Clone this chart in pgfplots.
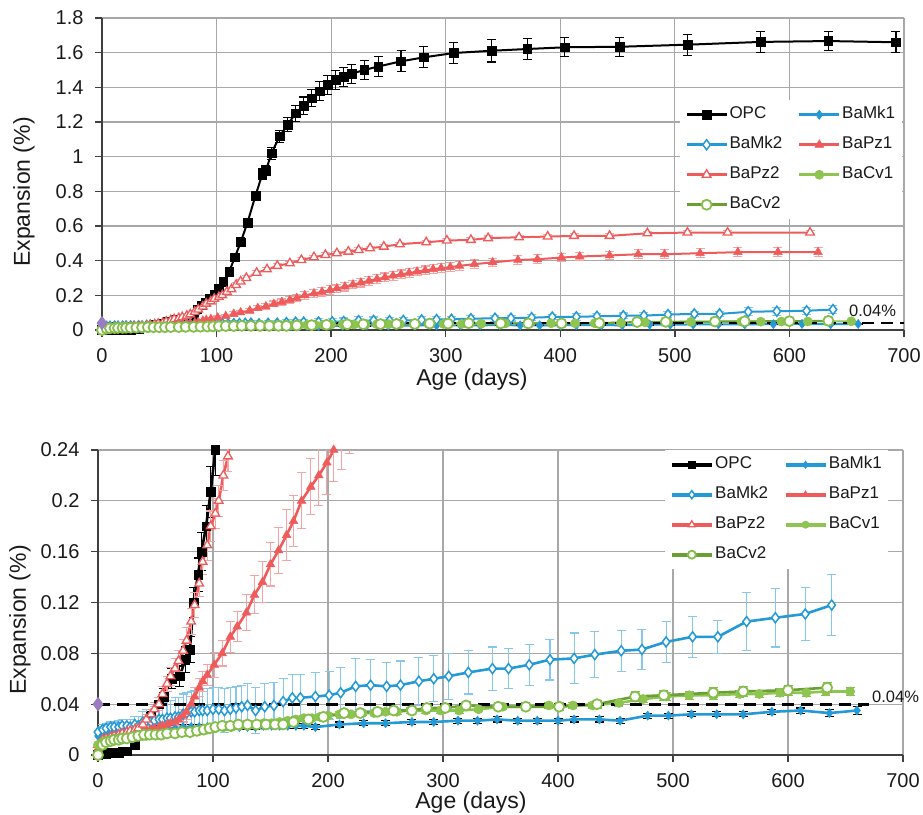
\documentclass[border=0pt]{standalone}
\usepackage{pgfplots}
\pgfplotsset{compat=1.18}
\usepackage{pgfplotstable}
\usepackage{fontspec}
\setmainfont{Liberation Sans}

\definecolor{cBlue}{HTML}{2399D6}
\definecolor{cBlueL}{HTML}{86C8EC}
\definecolor{cRed}{HTML}{EF5B5B}
\definecolor{cRedL}{HTML}{F6A3A3}
\definecolor{cGreenL}{HTML}{8EC450}
\definecolor{cGreenD}{HTML}{6A9F33}
\definecolor{cGreenE}{HTML}{86BE4C}
\definecolor{cPurple}{HTML}{9A7CC0}
\definecolor{cGrid}{HTML}{A8A8A8}
\definecolor{cAxis}{HTML}{404040}
\definecolor{cText}{HTML}{1A1A1A}

% expansion (%) against age (days): mean value and error
\pgfplotstableread{
d v e
0 0.000 0.001
4 0.001 0.002
7 0.001 0.002
11 0.002 0.002
14 0.002 0.002
18 0.002 0.002
21 0.003 0.002
25 0.003 0.002
32 0.008 0.003
39 0.018 0.003
46 0.030 0.004
53 0.040 0.005
57 0.046 0.006
64 0.060 0.008
71 0.062 0.008
76 0.075 0.010
80 0.083 0.010
83 0.120 0.012
87 0.142 0.013
90 0.160 0.015
94 0.180 0.016
98 0.207 0.020
102 0.240 0.020
106 0.280 0.020
111 0.337 0.020
116 0.420 0.020
121 0.506 0.025
127 0.620 0.025
134 0.776 0.025
140 0.900 0.030
143 0.920 0.030
148 1.020 0.035
155 1.117 0.035
162 1.184 0.040
169 1.250 0.045
176 1.294 0.050
183 1.338 0.050
190 1.377 0.055
197 1.415 0.055
204 1.444 0.055
211 1.460 0.055
218 1.479 0.055
229 1.500 0.055
241 1.520 0.060
261 1.550 0.060
281 1.573 0.060
307 1.598 0.060
340 1.611 0.065
371 1.621 0.060
404 1.631 0.055
452 1.634 0.055
511 1.646 0.060
575 1.662 0.060
634 1.667 0.055
693 1.660 0.060
}\tOPC

\pgfplotstableread{
d v e
0 0.015 0.002
4 0.017 0.002
7 0.018 0.002
11 0.018 0.002
14 0.019 0.002
18 0.019 0.002
21 0.019 0.002
25 0.020 0.002
32 0.020 0.002
39 0.020 0.002
46 0.020 0.002
53 0.021 0.002
60 0.021 0.002
67 0.021 0.002
74 0.022 0.002
81 0.022 0.002
88 0.022 0.002
95 0.022 0.002
102 0.022 0.002
109 0.022 0.002
116 0.022 0.002
123 0.022 0.002
130 0.022 0.002
137 0.022 0.002
144 0.023 0.002
151 0.023 0.002
158 0.023 0.002
165 0.023 0.002
172 0.023 0.002
179 0.023 0.002
189 0.022 0.002
210 0.024 0.002
231 0.025 0.002
250 0.025 0.002
273 0.026 0.002
292 0.026 0.002
313 0.027 0.002
330 0.027 0.002
347 0.028 0.002
365 0.027 0.002
382 0.027 0.002
400 0.027 0.002
414 0.028 0.002
436 0.028 0.002
454 0.027 0.002
478 0.031 0.002
496 0.031 0.002
516 0.032 0.002
538 0.032 0.002
561 0.032 0.002
586 0.034 0.002
611 0.035 0.002
636 0.033 0.003
660 0.035 0.003
}\tMkOne

\pgfplotstableread{
d v e
0 0.018 0.004
4 0.020 0.004
7 0.021 0.004
11 0.022 0.004
14 0.022 0.004
18 0.022 0.005
21 0.023 0.005
25 0.023 0.005
28 0.022 0.006
32 0.024 0.006
35 0.023 0.007
39 0.026 0.008
42 0.027 0.009
46 0.026 0.010
49 0.027 0.011
53 0.028 0.012
56 0.028 0.013
60 0.029 0.014
63 0.029 0.014
67 0.030 0.015
70 0.030 0.015
74 0.032 0.016
77 0.033 0.016
81 0.034 0.016
84 0.034 0.017
88 0.035 0.017
91 0.035 0.017
95 0.035 0.017
100 0.036 0.017
105 0.036 0.017
110 0.035 0.017
115 0.036 0.017
120 0.037 0.017
125 0.038 0.017
130 0.039 0.017
137 0.035 0.018
145 0.038 0.018
153 0.039 0.018
161 0.042 0.018
169 0.045 0.018
176 0.045 0.018
189 0.046 0.019
201 0.047 0.019
211 0.049 0.020
224 0.054 0.022
237 0.055 0.020
251 0.054 0.019
263 0.055 0.019
279 0.058 0.019
292 0.060 0.018
305 0.062 0.018
322 0.065 0.017
343 0.068 0.017
357 0.068 0.016
375 0.071 0.016
393 0.075 0.016
414 0.076 0.020
432 0.079 0.018
455 0.082 0.016
473 0.083 0.016
494 0.089 0.016
517 0.093 0.016
539 0.093 0.013
564 0.105 0.023
589 0.108 0.023
615 0.111 0.021
638 0.118 0.024
}\tMkTwo

\pgfplotstableread{
d v e
0 0.005 0.002
4 0.008 0.002
7 0.010 0.002
11 0.012 0.002
14 0.013 0.002
18 0.014 0.002
21 0.015 0.002
25 0.016 0.002
28 0.016 0.002
32 0.017 0.003
35 0.017 0.003
39 0.018 0.003
42 0.019 0.003
46 0.020 0.003
49 0.021 0.003
53 0.022 0.003
56 0.023 0.004
60 0.024 0.004
63 0.025 0.004
67 0.026 0.005
70 0.028 0.005
74 0.031 0.005
77 0.034 0.006
81 0.040 0.006
84 0.046 0.007
88 0.053 0.007
91 0.058 0.008
95 0.063 0.008
101 0.071 0.010
108 0.080 0.010
115 0.093 0.012
121 0.101 0.012
129 0.112 0.014
136 0.126 0.015
143 0.136 0.016
150 0.150 0.017
157 0.161 0.018
164 0.173 0.020
170 0.184 0.020
177 0.200 0.022
185 0.211 0.022
192 0.220 0.024
199 0.230 0.025
205 0.240 0.025
212 0.250 0.025
219 0.262 0.025
226 0.273 0.025
233 0.284 0.025
240 0.294 0.025
247 0.304 0.025
254 0.313 0.025
261 0.321 0.025
268 0.329 0.025
275 0.337 0.025
282 0.344 0.025
289 0.351 0.025
296 0.357 0.025
304 0.363 0.025
312 0.370 0.025
325 0.380 0.025
341 0.390 0.025
363 0.404 0.025
380 0.408 0.025
401 0.418 0.025
417 0.424 0.025
443 0.430 0.025
468 0.437 0.025
491 0.437 0.025
522 0.443 0.025
555 0.449 0.025
590 0.449 0.025
625 0.449 0.025
}\tPzOne

\pgfplotstableread{
d v e
0 0.008 0.002
4 0.012 0.002
7 0.013 0.002
11 0.014 0.002
14 0.015 0.002
18 0.016 0.002
21 0.017 0.002
25 0.018 0.002
28 0.019 0.002
32 0.020 0.003
35 0.021 0.003
39 0.024 0.003
42 0.028 0.004
46 0.032 0.004
49 0.036 0.005
53 0.040 0.005
56 0.048 0.006
60 0.056 0.006
63 0.062 0.007
67 0.068 0.008
70 0.074 0.008
74 0.082 0.009
77 0.090 0.010
81 0.105 0.010
84 0.118 0.010
88 0.135 0.010
91 0.152 0.010
95 0.165 0.012
98 0.180 0.012
102 0.190 0.012
105 0.200 0.012
109 0.220 0.012
113 0.235 0.012
117 0.260 0.012
121 0.280 0.012
126 0.300 0.012
135 0.330 0.012
144 0.350 0.012
153 0.370 0.012
164 0.385 0.012
174 0.404 0.012
185 0.420 0.012
195 0.433 0.012
205 0.443 0.012
215 0.452 0.012
224 0.462 0.012
234 0.472 0.012
246 0.481 0.012
260 0.495 0.012
283 0.506 0.012
301 0.516 0.012
322 0.520 0.012
337 0.530 0.012
364 0.535 0.012
389 0.539 0.012
412 0.543 0.012
443 0.543 0.012
476 0.558 0.012
511 0.562 0.012
546 0.562 0.012
618 0.562 0.012
}\tPzTwo

\pgfplotstableread{
d v e
0 0.008 0.002
4 0.010 0.002
7 0.011 0.002
11 0.012 0.002
14 0.012 0.002
18 0.013 0.002
21 0.013 0.002
25 0.013 0.002
28 0.014 0.002
32 0.014 0.002
35 0.015 0.002
39 0.015 0.002
42 0.015 0.002
46 0.016 0.002
49 0.016 0.002
53 0.016 0.002
56 0.017 0.002
60 0.017 0.002
67 0.017 0.002
74 0.018 0.002
81 0.018 0.002
88 0.019 0.002
95 0.020 0.002
102 0.021 0.002
109 0.022 0.002
116 0.022 0.002
123 0.023 0.002
130 0.023 0.002
137 0.024 0.002
144 0.025 0.002
151 0.025 0.002
158 0.026 0.002
165 0.027 0.002
172 0.028 0.002
179 0.029 0.002
186 0.029 0.002
193 0.030 0.002
200 0.031 0.002
210 0.032 0.002
220 0.032 0.002
230 0.033 0.002
240 0.033 0.002
250 0.034 0.002
260 0.034 0.002
272 0.035 0.002
285 0.035 0.002
298 0.035 0.002
314 0.035 0.002
331 0.036 0.002
352 0.038 0.002
372 0.038 0.002
392 0.039 0.002
413 0.039 0.002
430 0.039 0.002
453 0.041 0.003
474 0.044 0.003
494 0.046 0.003
514 0.047 0.003
535 0.047 0.003
558 0.048 0.003
575 0.048 0.003
593 0.049 0.003
616 0.049 0.003
633 0.050 0.003
654 0.050 0.003
}\tCvOne

\pgfplotstableread{
d v e
0 0.000 0.001
4 0.008 0.002
7 0.010 0.002
11 0.011 0.002
14 0.012 0.002
18 0.012 0.002
21 0.013 0.002
25 0.013 0.002
30 0.014 0.002
35 0.015 0.002
40 0.016 0.002
45 0.016 0.002
50 0.016 0.002
55 0.016 0.002
60 0.017 0.002
67 0.017 0.002
73 0.018 0.002
80 0.018 0.002
86 0.019 0.002
92 0.020 0.002
97 0.021 0.002
102 0.022 0.002
108 0.023 0.002
115 0.023 0.002
122 0.024 0.002
130 0.024 0.002
138 0.024 0.002
146 0.024 0.002
154 0.024 0.002
161 0.024 0.002
170 0.026 0.002
183 0.028 0.002
196 0.030 0.002
214 0.033 0.002
228 0.033 0.002
243 0.034 0.002
257 0.035 0.002
273 0.035 0.002
286 0.037 0.002
302 0.037 0.002
320 0.039 0.003
348 0.038 0.003
372 0.038 0.003
401 0.038 0.003
434 0.040 0.003
467 0.046 0.004
492 0.047 0.004
535 0.049 0.004
561 0.050 0.004
600 0.051 0.004
634 0.053 0.004
}\tCvTwo

\pgfplotsset{
  errs/.style={error bars/.cd, y dir=both, y explicit, error mark=|,
    error bar style={line width=1.1pt, color=#1, solid},
    error mark options={line width=1.1pt, color=#1, mark size=4.5pt, solid}},
  sOPC/.style={black, mark=square*, mark size=4.3pt,
    mark options={solid, fill=black, draw=black, line width=0.5pt}, errs=black},
  sMkOne/.style={cBlue, mark=diamond*, mark size=4.6pt,
    mark options={solid, fill=cBlue, draw=cBlue, line width=0.5pt}, errs=black},
  sMkTwo/.style={cBlue, mark=diamond*, mark size=5pt,
    mark options={solid, fill=white, draw=cBlue, line width=1.5pt}, errs=cBlueL},
  sPzOne/.style={cRed, mark=triangle*, mark size=5pt,
    mark options={solid, fill=cRed, draw=cRed, line width=0.5pt}, errs=cRedL},
  sPzTwo/.style={cRed, mark=triangle*, mark size=5pt,
    mark options={solid, fill=white, draw=cRed, line width=1.3pt}, errs=cRedL},
  sCvOne/.style={cGreenL, mark=*, mark size=4.6pt,
    mark options={solid, fill=cGreenL, draw=cGreenL, line width=0.5pt}, errs=cGreenE},
  sCvTwo/.style={cGreenD, mark=*, mark size=5pt,
    mark options={solid, fill=white, draw=cGreenE, line width=1.8pt}, errs=cGreenE},
  base/.style={
    scale only axis, anchor=south west,
    xmin=0, xmax=700, xtick={0,100,200,300,400,500,600,700},
    axis x line*=bottom, axis y line*=left,
    grid=major,
    major grid style={line width=1.2pt, color=cGrid},
    axis line style={line width=1.5pt, color=cAxis},
    tick style={line width=1.3pt, color=cAxis},
    tick align=outside, major tick length=7pt,
    ticklabel style={font=\fontsize{20}{24}\selectfont, text=cText},
    xticklabel style={yshift=-10pt, inner sep=1pt},
    /pgf/number format/assume math mode=true,
    scaled y ticks=false,
    yticklabel style={xshift=-8pt, /pgf/number format/fixed, /pgf/number format/precision=2},
    legend columns=2,
    legend cell align=left,
    legend style={anchor=north west, draw=none, fill=white, inner sep=5pt,
      font=\fontsize{17}{20}\selectfont, text=cText,
      nodes={inner sep=1.5pt, text height=12pt, text depth=4pt},
      /tikz/row sep=11pt,
      /tikz/every even column/.append style={column sep=14pt}},
  },
}

\newcommand{\drawseries}{%
  \addplot[sOPC] table[x=d, y=v, y error=e] {\tOPC};
  \addlegendentry{OPC}
  \addplot[sMkOne] table[x=d, y=v, y error=e] {\tMkOne};
  \addlegendentry{BaMk1}
  \addplot[sMkTwo] table[x=d, y=v, y error=e] {\tMkTwo};
  \addlegendentry{BaMk2}
  \addplot[sPzOne] table[x=d, y=v, y error=e] {\tPzOne};
  \addlegendentry{BaPz1}
  \addplot[sPzTwo] table[x=d, y=v, y error=e] {\tPzTwo};
  \addlegendentry{BaPz2}
  \addplot[sCvOne] table[x=d, y=v, y error=e] {\tCvOne};
  \addlegendentry{BaCv1}
  \addplot[sCvTwo] table[x=d, y=v, y error=e] {\tCvTwo};
  \addlegendentry{BaCv2}
}

\begin{document}
\begin{tikzpicture}
% upper panel: full range
\begin{axis}[base, at={(102pt,484pt)}, width=802pt, height=312pt,
  ymin=0, ymax=1.8, ytick={0,0.2,0.4,0.6,0.8,1,1.2,1.4,1.6,1.8},
  clip=false,
  every axis plot/.append style={line width=2pt},
  legend style={at={(rel axis cs:0.7207,0.737)}},
  legend image code/.code={\draw[mark repeat=2, mark phase=2, #1, line width=2.8pt]
     plot coordinates {(0pt,0pt) (20pt,0pt) (40pt,0pt)};}]
\drawseries
\addplot[forget plot, black, line width=2.6pt, dash pattern=on 12pt off 7pt,
  mark=diamond*, mark indices={1}, mark size=5pt,
  mark options={solid, fill=cPurple, draw=cPurple}] coordinates {(0,0.04) (700,0.04)};
\node[anchor=west, font=\fontsize{16.5}{19}\selectfont, text=cText, inner sep=0pt]
  at (axis cs:652,0.11) {0.04\%};
\end{axis}

% lower panel: detail of the first 0.24 %
\begin{axis}[base, at={(98pt,59pt)}, width=805pt, height=305pt,
  ymin=0, ymax=0.24, ytick={0,0.04,0.08,0.12,0.16,0.2,0.24},
  every axis plot/.append style={line width=2.6pt},
  legend style={at={(rel axis cs:0.704,1)}},
  legend image code/.code={\draw[mark repeat=2, mark phase=2, #1, line width=3.8pt,
     every mark/.append style={scale=0.8}]
     plot coordinates {(0pt,0pt) (20pt,0pt) (40pt,0pt)};}]
\drawseries
\addplot[forget plot, black, line width=2.8pt, dash pattern=on 12pt off 7pt,
  mark=diamond*, mark indices={1}, mark size=5pt,
  mark options={solid, fill=cPurple, draw=cPurple}] coordinates {(0,0.04) (670,0.04)};
\coordinate (limlabel) at (axis cs:673,0.0456);
\end{axis}
\node[anchor=west, font=\fontsize{16.5}{19}\selectfont, text=cText, inner sep=0pt]
  at (limlabel) {0.04\%};

% axis titles
\node[font=\fontsize{23}{27}\selectfont, text=cText, inner sep=0pt] at (472pt,434pt) {Age (days)};
\node[font=\fontsize{23}{27}\selectfont, text=cText, inner sep=0pt] at (471pt,11pt) {Age (days)};
\node[rotate=90, font=\fontsize{23}{27}\selectfont, text=cText] at (24pt,622pt) {Expansion (\%)};
\node[rotate=90, font=\fontsize{23}{27}\selectfont, text=cText] at (20pt,194pt) {Expansion (\%)};

\pgfresetboundingbox
\path[use as bounding box] (0pt,0pt) rectangle (923pt,814pt);
\end{tikzpicture}
\end{document}
